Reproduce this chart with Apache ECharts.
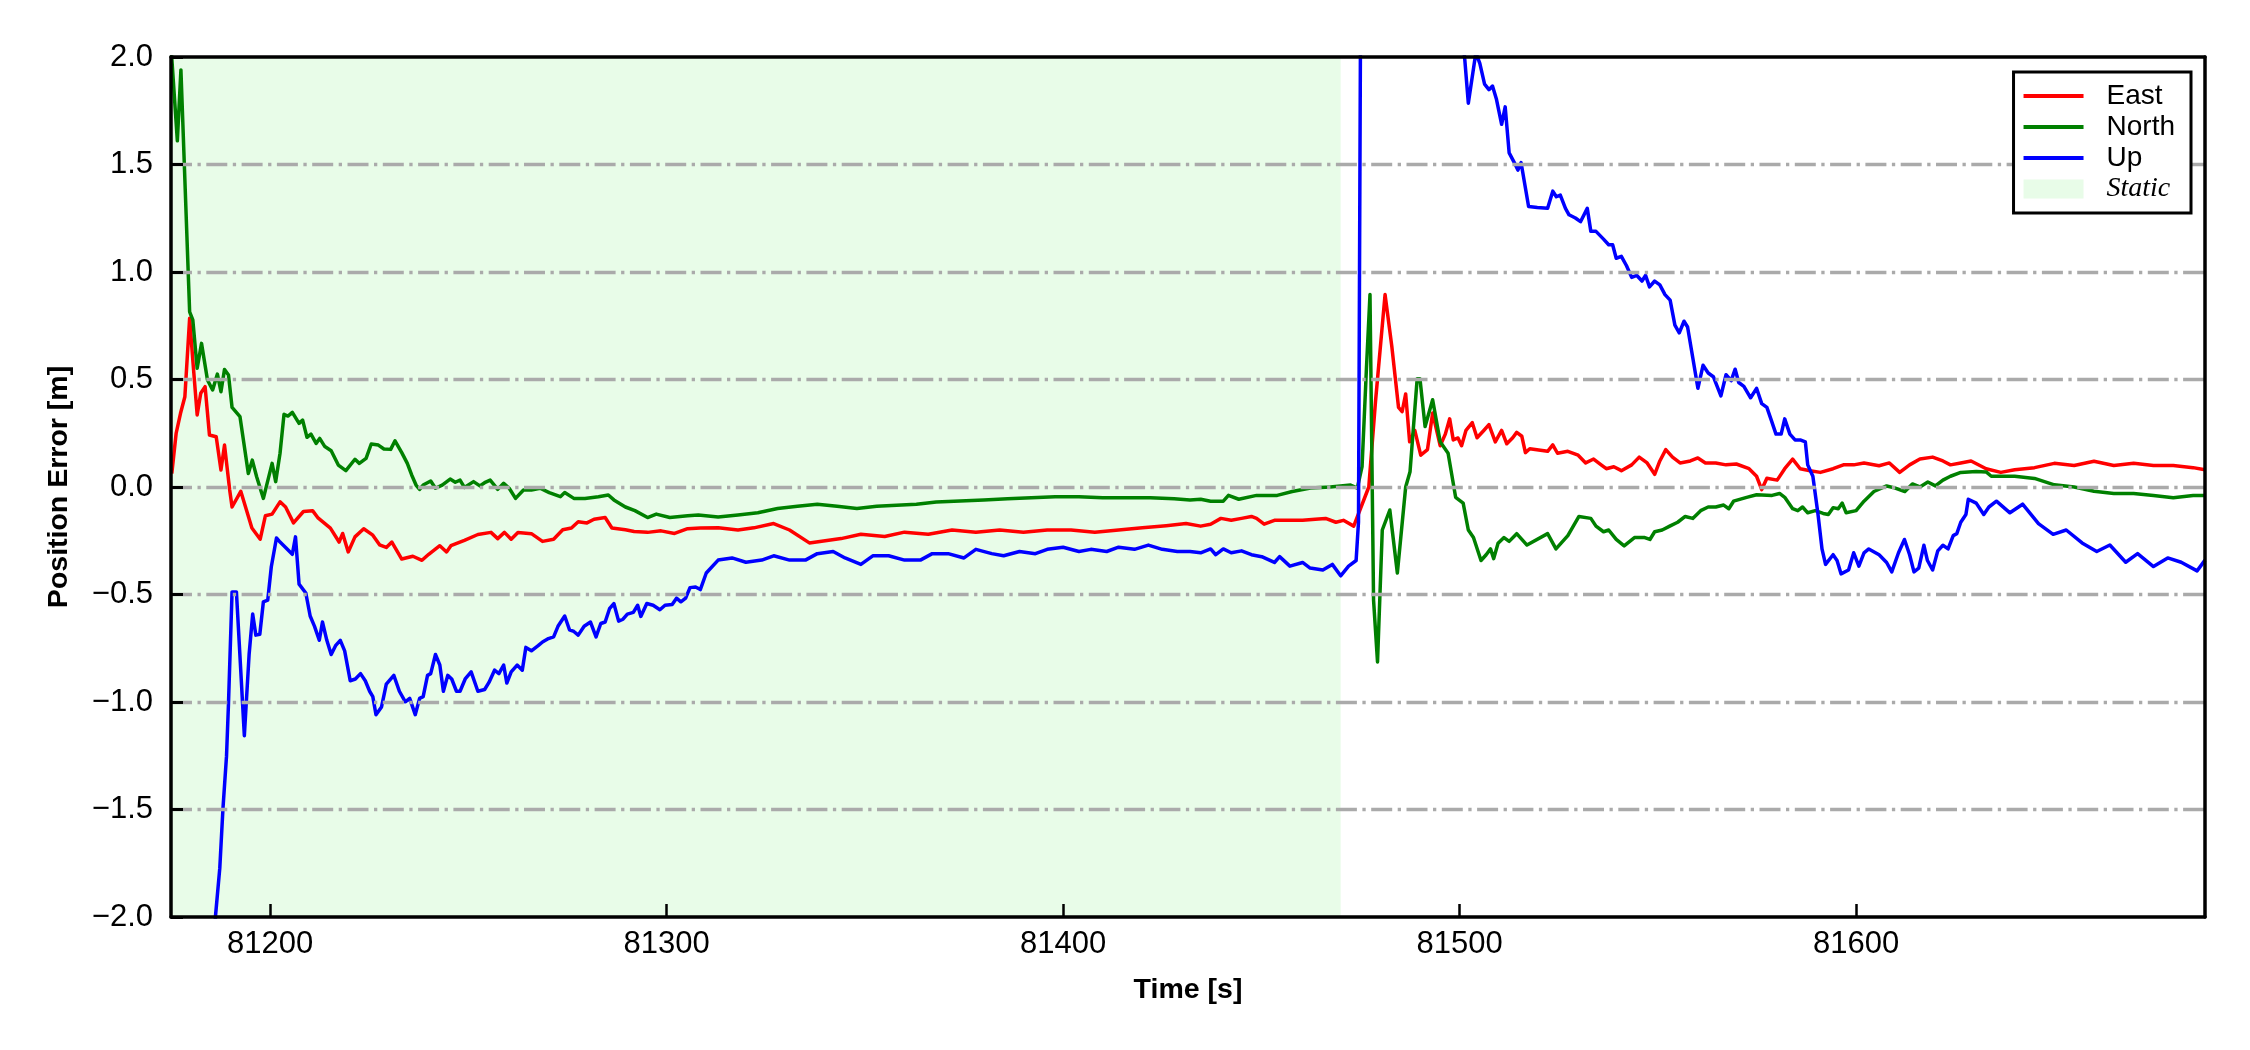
<!DOCTYPE html>
<html><head><meta charset="utf-8">
<script src="https://cdn.jsdelivr.net/npm/echarts@6/dist/echarts.min.js"></script>
<style>html,body{margin:0;padding:0;background:#fff}#c{width:2250px;height:1050px}</style>
</head><body><div id="c"></div>
<script>
// ---------- data ----------
const xTicks = [81200, 81300, 81400, 81500, 81600];
const xRange = [81175, 81688];
const yRange = [-2, 2];
const yStep = 0.5;
const staticSpan = [81175, 81470];
const seriesNames = ['East', 'North', 'Up', 'Static'];

const eastT = [81175.2,81176.3,81177.4,81178.5,81179.7,81180.5,81181.6,81182.5,81183.6,81184.7,81186.4,81187.6,81188.5,81189.8,81190.4,81192.6,81195.4,81197.5,81198.8,81200.5,81202.5,81203.9,81205.9,81208.4,81210.7,81212,81215.2,81217.4,81218.3,81219.7,81221.4,81223.6,81225.9,81227.6,81229.3,81230.7,81233.2,81236,81238.3,81240,81242.8,81244.5,81245.6,81249,81252.4,81255.7,81257.4,81259.1,81260.8,81262.5,81265.9,81268.7,81271.5,81273.8,81276,81277.7,81279.9,81281.7,81284.5,81286.2,81289.6,81291.8,81295.2,81298.6,81302,81305.3,81308.5,
81313,81318,81322,81327,81331,81336,81340,81344,81349,81355,81360,81366,81372,81378,81384,81390,81396,81402,81408,81414,81420,81426,81431,
81434.7,81437.2,81439.8,81442.4,81445,81447.5,81448.8,81450.7,81453.3,81455.9,81460.4,81463.6,81466.2,81468.8,81470.7,81473.3,81473.8,81477.1,81478.8,81481.2,81482.9,81484.6,81485.5,81486.4,81487.4,81488.7,81490.2,81491.9,81493.2,81495.1,81496.4,81497.5,81498.4,81499.6,81500.5,81501.6,81503.2,81504.4,81506.1,81507.4,81509,81510.6,81511.9,81513.4,81514.4,81515.7,81516.6,81517.7,81522.2,81523.5,81524.7,81527.3,81529.9,81531.8,81533.8,81535.7,81537,81538.9,81540.8,81543.4,81545.3,81547.3,81549.2,81550.5,81552,81553.7,81555.6,81558.2,81560.1,81562,81564.6,81567.2,81569.8,81573,81574.9,81576.2,81577.5,81580.1,81582,81584,81585.9,81588.4,81591,81594.2,81596.8,81599.4,81602,81605.8,81608.4,81611,81613.5,81616.1,81619.3,81621.9,81623.8,81626.4,81629,81632.8,81636.5,
81640,81645,81650,81655,81660,81665,81670,81675,81680,81685,81688];
const eastV = [0.063,0.25,0.343,0.42,0.785,0.59,0.335,0.436,0.467,0.242,0.234,0.079,0.195,-0.014,-0.093,-0.02,-0.191,-0.243,-0.134,-0.126,-0.069,-0.093,-0.167,-0.114,-0.11,-0.142,-0.191,-0.256,-0.216,-0.302,-0.232,-0.194,-0.224,-0.269,-0.281,-0.256,-0.335,-0.322,-0.341,-0.313,-0.273,-0.302,-0.273,-0.248,-0.221,-0.211,-0.24,-0.211,-0.243,-0.212,-0.217,-0.253,-0.243,-0.199,-0.191,-0.162,-0.167,-0.15,-0.142,-0.191,-0.199,-0.207,-0.211,-0.204,-0.216,-0.194,-0.191,
-0.19,-0.2,-0.19,-0.17,-0.2,-0.26,-0.25,-0.24,-0.22,-0.23,-0.21,-0.22,-0.2,-0.21,-0.2,-0.21,-0.2,-0.2,-0.21,-0.2,-0.19,-0.18,-0.17,
-0.182,-0.173,-0.146,-0.155,-0.146,-0.137,-0.146,-0.173,-0.155,-0.155,-0.155,-0.15,-0.146,-0.164,-0.155,-0.182,-0.177,0.0,0.40,0.895,0.655,0.37,0.35,0.433,0.21,0.263,0.148,0.174,0.344,0.192,0.246,0.317,0.219,0.228,0.192,0.263,0.299,0.229,0.263,0.29,0.21,0.263,0.201,0.229,0.254,0.236,0.16,0.178,0.166,0.196,0.157,0.166,0.148,0.112,0.13,0.103,0.085,0.094,0.076,0.103,0.139,0.112,0.059,0.121,0.174,0.139,0.112,0.121,0.135,0.112,0.112,0.103,0.107,0.085,0.05,-0.012,0.041,0.032,0.085,0.13,0.085,0.076,0.068,0.085,0.103,0.103,0.112,0.099,0.112,0.068,0.103,0.13,0.139,0.121,0.103,0.112,0.121,0.085,0.068,
0.08,0.09,0.11,0.1,0.12,0.1,0.11,0.1,0.1,0.09,0.08];

const northT = [81175,81176.6,81177.5,81179.7,81180.5,81181.6,81182.7,81184.2,81185.5,81186.7,81187.6,81188.5,81189.5,81190.4,81192.4,81194.5,81195.5,81196.6,81198.3,81200.5,81201.4,81202.5,81203.5,81204.5,81205.6,81207.3,81208.2,81209.3,81210.3,81211.6,81212.5,81213.8,81215.4,81217.2,81219.1,81221.4,81222.5,81224.2,81225.5,81227.3,81228.7,81230.4,81231.5,81233.2,81234.6,81235.7,81236.8,81237.7,81238.6,81240.5,81241.7,81243.4,81245.4,81246.7,81247.9,81249,81251.3,81252.9,81254.1,81255.5,81257.4,81258.9,81260.3,81261.9,81263.9,81265.9,81268.1,81270.4,81273.2,81274.3,81276.6,81279.4,81282.8,81285.3,81286.7,81289.6,81292,81295.2,81297.4,81300.8,81305.3,
81308,81313,81318,81323,81328,81333,81338,81343,81348,81353,81358,81363,81368,81374,81380,81386,81392,81398,81404,81410,81416,81422,81428,81432,
81434.7,81437.2,81440.4,81441.7,81444.3,81448.8,81454,81457.8,81462.4,81467.4,81472.5,81474.2,81475.4,81476.5,81477.4,81478.3,81479.3,81480.5,81482.4,81484.3,81486.4,81487.5,81489.3,81490,81491.3,81493.2,81495.1,81497.1,81499,81500.9,81502.2,81503.5,81505.4,81506.7,81507.8,81508.6,81509.7,81511.2,81512.5,81514.4,81517,81522.2,81524.3,81527.3,81530.1,81533.1,81534.4,81536.3,81537.6,81539.5,81541.5,81544.1,81546.7,81548,81549.2,81551.1,81553,81555,81556.9,81558.8,81560.8,81562.7,81564.6,81566.6,81567.9,81569.1,81572.4,81574.9,81578.8,81580.7,81582,81584,81585.3,81586.5,81587.8,81589.7,81591.7,81593,81594.2,81595.5,81596.5,81597.5,81600,81602,81604.5,81607.7,81609.7,81612.3,81614.2,81616.1,81618.1,81620,81621.9,81623.8,81626.4,81630.3,81632.8,81634.1,81636.5,
81640,81645,81650,81655,81660,81665,81670,81675,81680,81685,81688];
const northV = [2.05,1.61,1.94,0.815,0.777,0.552,0.668,0.498,0.451,0.525,0.443,0.547,0.521,0.37,0.327,0.063,0.125,0.048,-0.053,0.11,0.025,0.157,0.338,0.33,0.347,0.296,0.311,0.231,0.246,0.203,0.226,0.188,0.169,0.102,0.076,0.129,0.11,0.133,0.2,0.195,0.177,0.175,0.215,0.16,0.11,0.056,0.009,-0.011,0.009,0.028,-0.006,0.009,0.037,0.022,0.032,-0.002,0.025,0.005,0.02,0.032,-0.011,0.017,-0.006,-0.053,-0.014,-0.014,-0.006,-0.026,-0.045,-0.026,-0.053,-0.053,-0.045,-0.037,-0.06,-0.093,-0.11,-0.142,-0.126,-0.142,-0.134,
-0.13,-0.14,-0.13,-0.12,-0.1,-0.09,-0.08,-0.09,-0.1,-0.09,-0.085,-0.08,-0.07,-0.065,-0.06,-0.055,-0.05,-0.045,-0.045,-0.05,-0.05,-0.05,-0.055,-0.06,
-0.057,-0.066,-0.066,-0.039,-0.057,-0.039,-0.039,-0.021,-0.005,0.0,0.009,-0.005,0.095,0.55,0.895,-0.526,-0.814,-0.2,-0.107,-0.4,0.0,0.071,0.504,0.504,0.281,0.406,0.21,0.157,-0.048,-0.075,-0.2,-0.235,-0.342,-0.315,-0.288,-0.333,-0.262,-0.235,-0.253,-0.217,-0.27,-0.217,-0.288,-0.226,-0.137,-0.146,-0.182,-0.208,-0.2,-0.244,-0.274,-0.235,-0.235,-0.244,-0.208,-0.2,-0.182,-0.164,-0.137,-0.146,-0.11,-0.093,-0.093,-0.084,-0.101,-0.066,-0.048,-0.036,-0.039,-0.03,-0.048,-0.101,-0.11,-0.093,-0.12,-0.11,-0.123,-0.128,-0.096,-0.101,-0.075,-0.12,-0.11,-0.066,-0.021,0.005,-0.004,-0.021,0.014,0.0,0.023,0.005,0.032,0.05,0.068,0.072,0.07,0.05,0.05,
0.05,0.04,0.01,0.0,-0.02,-0.03,-0.03,-0.04,-0.05,-0.04,-0.04];

const upT = [81185,81186.2,81187.3,81188.1,81189,81189.5,81190.4,81191.5,81193.5,81194.7,81195.6,81196.4,81197.4,81198.3,81199.4,81200.3,81201.6,81202.5,81203.9,81205.6,81206.4,81207.3,81209,81210.1,81211.2,81212.4,81213.2,81214.3,81215.4,81216.5,81217.7,81218.8,81220.2,81221.5,81222.8,81224,81225.1,81225.9,81226.7,81228.1,81229.3,81231.2,81232.6,81234.1,81235.2,81236.6,81237.7,81238.6,81239.7,81240.5,81241.7,81242.8,81243.7,81244.8,81245.8,81247,81247.9,81249.2,81250.7,81252.4,81254.1,81255.2,81256.6,81257.7,81258.9,81259.7,81260.8,81262.3,81263.6,81264.5,81265.9,81267.6,81268.7,81270.2,81271.5,81272.6,81274.3,81275.5,81276.6,81277.7,81279.2,81280.8,81282.2,81283.4,81284.5,81285.6,81286.7,81287.9,81289,81290.1,81291.6,81292.7,81293.5,81295,81296.6,81298.3,81299.6,81301.4,81302.5,81303.6,81304.8,81305.9,81307.3,81308.5,
81310,81313,81316.5,81320,81324,81327,81331,81335,81338,81342,81345,81349,81352,81356,81360,81364,81367,81371,81375,81378,81382,81385,81389,81393,81396,81400,81404,81407,81411,81414,81418,81421.5,81425,81428.8,81432,
81434.7,81437.2,81438.5,81440.4,81442.4,81445,81447.5,81450.1,81453.3,81454.6,81457.2,81460.4,81462.3,81465.5,81467.9,81470,81472,81473.9,81474.5,81475.2,81480,81490,81500,81501.3,81502.2,81504.1,81505.1,81506.3,81507.4,81508.3,81509.3,81510.6,81511.5,81512.5,81513.8,81514.7,81515.5,81517.4,81519.6,81522.2,81523.5,81524.4,81525.4,81526.7,81527.6,81529.2,81530.5,81532.2,81533.1,81534.4,81536.3,81537.6,81538.6,81539.5,81540.8,81542.1,81543.4,81544.7,81546,81546.9,81547.9,81549.2,81550.5,81551.8,81553.1,81554.3,81555.4,81556.6,81557.5,81558.8,81560.1,81561.4,81562.7,81564,81565.9,81567.2,81568.5,81569.5,81570.4,81571.7,81573.4,81574.9,81576.2,81577.5,81578.5,81579.8,81581.1,81582,81583.3,81584.6,81585.9,81587.2,81587.8,81589.1,81590.4,81591.4,81592.3,81594.2,81595.2,81596.2,81598.1,81599.4,81600.7,81602,81603.2,81605.8,81607.7,81609,81610.7,81612.2,81613.5,81614.6,81615.8,81617.1,81618,81619.3,81620.6,81621.9,81623.2,81624.5,81625.4,81626.4,81627.7,81628.3,81630.3,81632.2,81633.5,81635.4,
81638.8,81642,81646,81649.7,81653,81657,81660.7,81664,81668,81671,81675,81678.6,81682,81686,81688];
const upV = [-2.6,-2.0,-1.774,-1.497,-1.252,-1.007,-0.488,-0.488,-1.157,-0.779,-0.591,-0.689,-0.685,-0.534,-0.526,-0.371,-0.237,-0.256,-0.281,-0.313,-0.232,-0.452,-0.493,-0.6,-0.648,-0.713,-0.628,-0.713,-0.779,-0.738,-0.713,-0.762,-0.901,-0.893,-0.868,-0.901,-0.95,-0.975,-1.059,-1.023,-0.917,-0.876,-0.95,-0.999,-0.983,-1.059,-0.983,-0.975,-0.876,-0.868,-0.779,-0.828,-0.95,-0.876,-0.893,-0.95,-0.95,-0.893,-0.86,-0.95,-0.942,-0.909,-0.852,-0.868,-0.828,-0.912,-0.86,-0.828,-0.852,-0.746,-0.762,-0.738,-0.721,-0.705,-0.697,-0.648,-0.6,-0.664,-0.672,-0.689,-0.648,-0.628,-0.697,-0.635,-0.628,-0.566,-0.542,-0.624,-0.615,-0.591,-0.583,-0.55,-0.602,-0.542,-0.55,-0.571,-0.55,-0.547,-0.517,-0.534,-0.517,-0.468,-0.465,-0.477,
-0.40,-0.34,-0.33,-0.35,-0.34,-0.32,-0.34,-0.34,-0.31,-0.30,-0.33,-0.36,-0.32,-0.32,-0.34,-0.34,-0.31,-0.31,-0.33,-0.29,-0.31,-0.32,-0.30,-0.31,-0.29,-0.28,-0.30,-0.29,-0.30,-0.28,-0.29,-0.27,-0.29,-0.30,-0.30,
-0.306,-0.288,-0.315,-0.288,-0.306,-0.297,-0.315,-0.324,-0.351,-0.324,-0.368,-0.351,-0.377,-0.386,-0.36,-0.413,-0.368,-0.342,-0.164,3.0,3.2,2.8,2.2,1.99,1.785,2.02,1.97,1.874,1.848,1.865,1.803,1.687,1.768,1.554,1.509,1.474,1.509,1.305,1.3,1.296,1.376,1.35,1.358,1.296,1.266,1.251,1.234,1.296,1.189,1.189,1.153,1.127,1.127,1.064,1.073,1.029,0.975,0.984,0.958,0.984,0.931,0.958,0.94,0.895,0.869,0.753,0.717,0.771,0.744,0.602,0.459,0.566,0.53,0.513,0.424,0.522,0.495,0.548,0.486,0.468,0.415,0.459,0.388,0.37,0.317,0.246,0.246,0.317,0.246,0.219,0.219,0.21,0.103,0.05,-0.128,-0.288,-0.36,-0.315,-0.342,-0.404,-0.386,-0.306,-0.368,-0.306,-0.288,-0.315,-0.351,-0.395,-0.306,-0.244,-0.315,-0.395,-0.377,-0.271,-0.342,-0.386,-0.297,-0.271,-0.288,-0.226,-0.217,-0.164,-0.128,-0.057,-0.075,-0.128,-0.093,-0.066,
-0.12,-0.08,-0.17,-0.22,-0.2,-0.26,-0.3,-0.27,-0.35,-0.31,-0.37,-0.33,-0.35,-0.39,-0.34];

// ---------- chart ----------
const zip = (t, v) => t.map((x, i) => [x, v[i]]);
const FONT = 'Liberation Sans, Arial, Helvetica, sans-serif';
const yGrid = [];
for (let v = yRange[0] + yStep; v < yRange[1] - 1e-9; v += yStep) yGrid.push(+v.toFixed(3));
const fmtY = v => (v < 0 ? '\u2212' : '') + Math.abs(v).toFixed(1);
const linePath = 'path://M0,0L62,0L62,4L0,4Z';
const colors = {East: '#ff0000', North: '#008000', Up: '#0000ff', Static: '#e8fce8'};

const chart = echarts.init(document.getElementById('c'), null, {renderer: 'canvas'});
const dataLine = (name, t, v) => ({
  name, type: 'line', data: zip(t, v), color: colors[name],
  symbol: 'none', showSymbol: false, clip: true, z: 3, silent: true,
  lineStyle: {width: 3.5, color: colors[name], join: 'round'}
});

chart.setOption({
  animation: false,
  backgroundColor: '#ffffff',
  grid: {left: 171, right: 45, top: 57, bottom: 133, containLabel: false},
  xAxis: [{
    type: 'value', min: xRange[0], max: xRange[1], position: 'bottom', z: 5,
    axisLine: {show: true, onZero: false, lineStyle: {color: '#000', width: 3.5}},
    axisTick: {show: true, inside: true, length: 13, customValues: xTicks, lineStyle: {color: '#000', width: 2.5}},
    axisLabel: {show: true, customValues: xTicks, margin: 12, fontSize: 31, color: '#000', fontFamily: FONT, formatter: v => String(v)},
    splitLine: {show: false},
    name: 'Time [s]', nameLocation: 'middle', nameGap: 59,
    nameTextStyle: {fontSize: 28.5, fontWeight: 'bold', color: '#000', fontFamily: FONT}
  }, {
    type: 'value', min: xRange[0], max: xRange[1], position: 'top', z: 5,
    axisLine: {show: true, onZero: false, lineStyle: {color: '#000', width: 3.5}},
    axisTick: {show: false}, axisLabel: {show: false}, splitLine: {show: false}
  }],
  yAxis: [{
    type: 'value', min: yRange[0], max: yRange[1], interval: yStep, position: 'left', z: 5,
    axisLine: {show: true, onZero: false, lineStyle: {color: '#000', width: 3.5}},
    axisTick: {show: true, inside: true, length: 12, lineStyle: {color: '#000', width: 3}},
    axisLabel: {show: true, margin: 18, fontSize: 31, color: '#000', fontFamily: FONT, formatter: fmtY},
    splitLine: {show: false},
    name: 'Position Error [m]', nameLocation: 'middle', nameGap: 97, nameRotate: 90,
    nameTextStyle: {fontSize: 28.5, fontWeight: 'bold', color: '#000', fontFamily: FONT}
  }, {
    type: 'value', min: yRange[0], max: yRange[1], interval: yStep, position: 'right', z: 5,
    axisLine: {show: true, onZero: false, lineStyle: {color: '#000', width: 3.5}},
    axisTick: {show: false}, axisLabel: {show: false}, splitLine: {show: false}
  }],
  legend: {
    orient: 'vertical', right: 59, top: 72,
    backgroundColor: '#ffffff', borderColor: '#000', borderWidth: 3, borderRadius: 0,
    padding: [10, 16, 10, 10], itemGap: 3, itemWidth: 60, itemHeight: 19,
    textStyle: {fontSize: 28, fontFamily: FONT, color: '#000', padding: [0, 0, 0, 18]},
    selectedMode: false, z: 10,
    data: [
      {name: seriesNames[0], icon: linePath},
      {name: seriesNames[1], icon: linePath},
      {name: seriesNames[2], icon: linePath},
      {name: seriesNames[3], icon: 'rect', textStyle: {fontStyle: 'italic', fontFamily: 'Liberation Serif, Times New Roman, serif', fontSize: 28}}
    ]
  },
  series: [
    {
      name: seriesNames[3], type: 'line', z: 1, silent: true, color: colors.Static,
      data: [[staticSpan[0], yRange[1]], [staticSpan[1], yRange[1]]],
      symbol: 'none', showSymbol: false,
      lineStyle: {width: 0, opacity: 0},
      areaStyle: {color: colors.Static, opacity: 1, origin: 'start'},
      markLine: {
        silent: true, symbol: ['none', 'none'], label: {show: false}, animation: false,
        lineStyle: {color: '#aaaaaa', width: 3.3, type: [21, 5.5, 3.3, 5.5], opacity: 1},
        emphasis: {disabled: true},
        data: yGrid.map(v => ({yAxis: v}))
      }
    },
    dataLine(seriesNames[0], eastT, eastV),
    dataLine(seriesNames[1], northT, northV),
    dataLine(seriesNames[2], upT, upV)
  ]
});
</script>
</body></html>
